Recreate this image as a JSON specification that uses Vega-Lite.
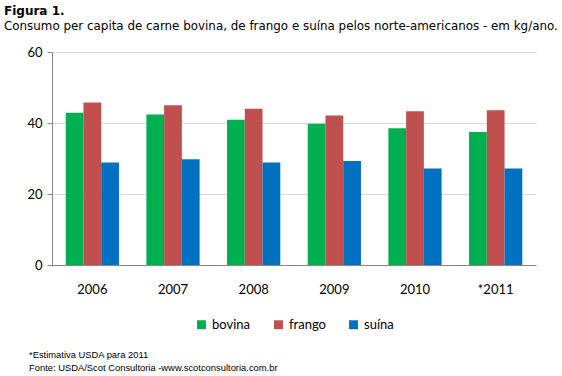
{
  "$schema": "https://vega.github.io/schema/vega-lite/v6.json",
  "background": "white",
  "padding": {"left": 4, "top": 5, "right": 25, "bottom": 0},
  "title": {
    "text": ["*Estimativa USDA para 2011", "Fonte: USDA/Scot Consultoria -www.scotconsultoria.com.br"],
    "orient": "bottom",
    "anchor": "start",
    "frame": "group",
    "dx": -23,
    "offset": 19,
    "font": "Liberation Sans",
    "fontSize": 9.4,
    "fontWeight": "normal",
    "lineHeight": 13,
    "color": "#000000"
  },
  "vconcat": [
    {
      "title": {
        "text": "Figura 1.",
        "subtitle": "Consumo per capita de carne bovina,  de frango e suína pelos norte-americanos  - em kg/ano.",
        "anchor": "start",
        "frame": "group",
        "dx": -48,
        "offset": 13,
        "font": "DejaVu Sans",
        "fontSize": 12,
        "fontWeight": "bold",
        "color": "#000000",
        "subtitleFont": "DejaVu Sans",
        "subtitleFontSize": 11.9,
        "subtitleColor": "#000000",
        "subtitlePadding": 3
      },
      "width": 484,
      "height": 213,
      "data": {
        "values": [
          {"ano": "2006", "tipo": "bovina", "valor": 42.9},
          {"ano": "2006", "tipo": "frango", "valor": 45.8},
          {"ano": "2006", "tipo": "suína", "valor": 28.9},
          {"ano": "2007", "tipo": "bovina", "valor": 42.4},
          {"ano": "2007", "tipo": "frango", "valor": 45.0},
          {"ano": "2007", "tipo": "suína", "valor": 29.8},
          {"ano": "2008", "tipo": "bovina", "valor": 40.9},
          {"ano": "2008", "tipo": "frango", "valor": 44.0},
          {"ano": "2008", "tipo": "suína", "valor": 28.9},
          {"ano": "2009", "tipo": "bovina", "valor": 39.8},
          {"ano": "2009", "tipo": "frango", "valor": 42.1},
          {"ano": "2009", "tipo": "suína", "valor": 29.3},
          {"ano": "2010", "tipo": "bovina", "valor": 38.5},
          {"ano": "2010", "tipo": "frango", "valor": 43.3},
          {"ano": "2010", "tipo": "suína", "valor": 27.2},
          {"ano": "*2011", "tipo": "bovina", "valor": 37.5},
          {"ano": "*2011", "tipo": "frango", "valor": 43.6},
          {"ano": "*2011", "tipo": "suína", "valor": 27.2}
        ]
      },
      "mark": {"type": "bar"},
      "encoding": {
        "x": {
          "field": "ano",
          "type": "nominal",
          "sort": null,
          "scale": {"paddingInner": 0.34, "paddingOuter": 0.17},
          "axis": {
            "title": null,
            "labelAngle": 0,
            "labelFont": "Lato",
            "labelFontSize": 13,
            "labelColor": "#000000",
            "labelPadding": 18,
            "ticks": false,
            "domainColor": "#868686",
            "grid": false
          }
        },
        "xOffset": {"field": "tipo", "type": "nominal", "sort": ["bovina", "frango", "suína"]},
        "y": {
          "field": "valor",
          "type": "quantitative",
          "scale": {"domain": [0, 60]},
          "axis": {
            "title": null,
            "values": [0, 20, 40, 60],
            "labelFont": "Lato",
            "labelFontSize": 13,
            "labelColor": "#000000",
            "labelPadding": 5,
            "tickSize": 5,
            "tickColor": "#868686",
            "domainColor": "#868686",
            "gridColor": "#D9D9D9"
          }
        },
        "color": {
          "field": "tipo",
          "type": "nominal",
          "sort": ["bovina", "frango", "suína"],
          "scale": {"domain": ["bovina", "frango", "suína"], "range": ["#00B050", "#C0504D", "#0070C0"]},
          "legend": {
            "title": null,
            "orient": "bottom",
            "direction": "horizontal",
            "symbolType": "square",
            "symbolSize": 80,
            "symbolStrokeWidth": 0,
            "labelFont": "Lato",
            "labelFontSize": 13,
            "labelColor": "#000000",
            "columnPadding": 21,
            "offset": 22
          }
        }
      }
    }
  ],
  "config": {
    "view": {"stroke": null},
    "legend": {"layout": {"bottom": {"anchor": "middle"}}}
  }
}
